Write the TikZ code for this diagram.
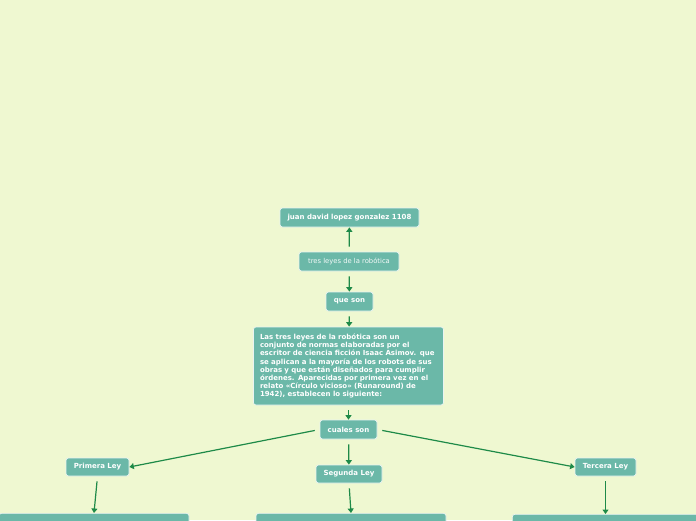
\documentclass[tikz,border=0pt]{standalone}
\usepackage{fontspec}
\setmainfont{DejaVu Sans}
\usetikzlibrary{arrows.meta}
\definecolor{bgc}{RGB}{239,248,209}
\definecolor{boxc}{RGB}{107,184,168}
\definecolor{arrc}{RGB}{30,138,72}
\tikzset{
  box/.style={draw=white!85!boxc, line width=0.7pt, fill=boxc, rounded corners=2.5pt, text=white,
    font=\fontsize{7}{7.6}\selectfont\bfseries, inner sep=0pt, minimum height=19pt, align=center},
  conn/.style={draw=arrc, line width=1.2pt, -{Triangle[length=4.5pt,width=6pt]}, shorten <=5pt}
}
\begin{document}
\begin{tikzpicture}[x=1pt,y=-1pt]
\useasboundingbox[fill=bgc] (0,0) rectangle (696,520);
\clip (0,0) rectangle (696,520);
\node[box, minimum width=139pt] (juan) at (349.5,217.5) {juan david lopez gonzalez 1108};
\node[box, minimum width=100pt, font=\fontsize{6.8}{7.5}\selectfont, text=white!92!boxc] (tres) at (349,261.5) {tres leyes de la robótica};
\node[box, minimum width=190pt, minimum height=78pt, text width=177pt, align=left,
  font=\fontsize{7}{8.1}\selectfont\bfseries] (big) at (348.5,366)
 {Las tres leyes de la robótica son un\\
 conjunto de normas elaboradas por el\\
 escritor de ciencia ficción Isaac Asimov. que\\
 se aplican a la mayoría de los robots de sus\\
 obras y que están diseñados para cumplir\\
 órdenes. Aparecidas por primera vez en el\\
 relato «Círculo vicioso» (Runaround) de\\
 1942), establecen lo siguiente:};
\node[box, minimum width=47pt] (que) at (349.5,301.5) {que son};
\node[box, minimum width=57pt] (cuales) at (348.5,429.5) {cuales son};
\node[box, minimum width=63pt, minimum height=18pt] (l1) at (97.5,467) {Primera Ley};
\node[box, minimum width=66pt, minimum height=18pt] (l2) at (349,474) {Segunda Ley};
\node[box, minimum width=61pt, minimum height=18pt] (l3) at (605.5,467) {Tercera Ley};
\node[box, minimum width=190pt, minimum height=40pt, anchor=north] (b1) at (94,513) {};
\node[box, minimum width=190pt, minimum height=40pt, anchor=north] (b2) at (351,513) {};
\node[box, minimum width=190pt, minimum height=40pt, anchor=north west] (b3) at (512,514) {};
\draw[conn] (tres) -- (juan);
\draw[conn] (tres) -- (que);
\draw[conn] (que) -- (big);
\draw[conn] (big) -- (cuales);
\draw[conn] (cuales.west) -- (l1.east);
\draw[conn] (cuales) -- (l2);
\draw[conn] (cuales.east) -- (l3.west);
\draw[conn] (l1.south) -- (b1.north);
\draw[conn] (l2.south) -- (b2.north);
\draw[conn] (l3.south) -- (b3.north -| l3.south);
\end{tikzpicture}
\end{document}
